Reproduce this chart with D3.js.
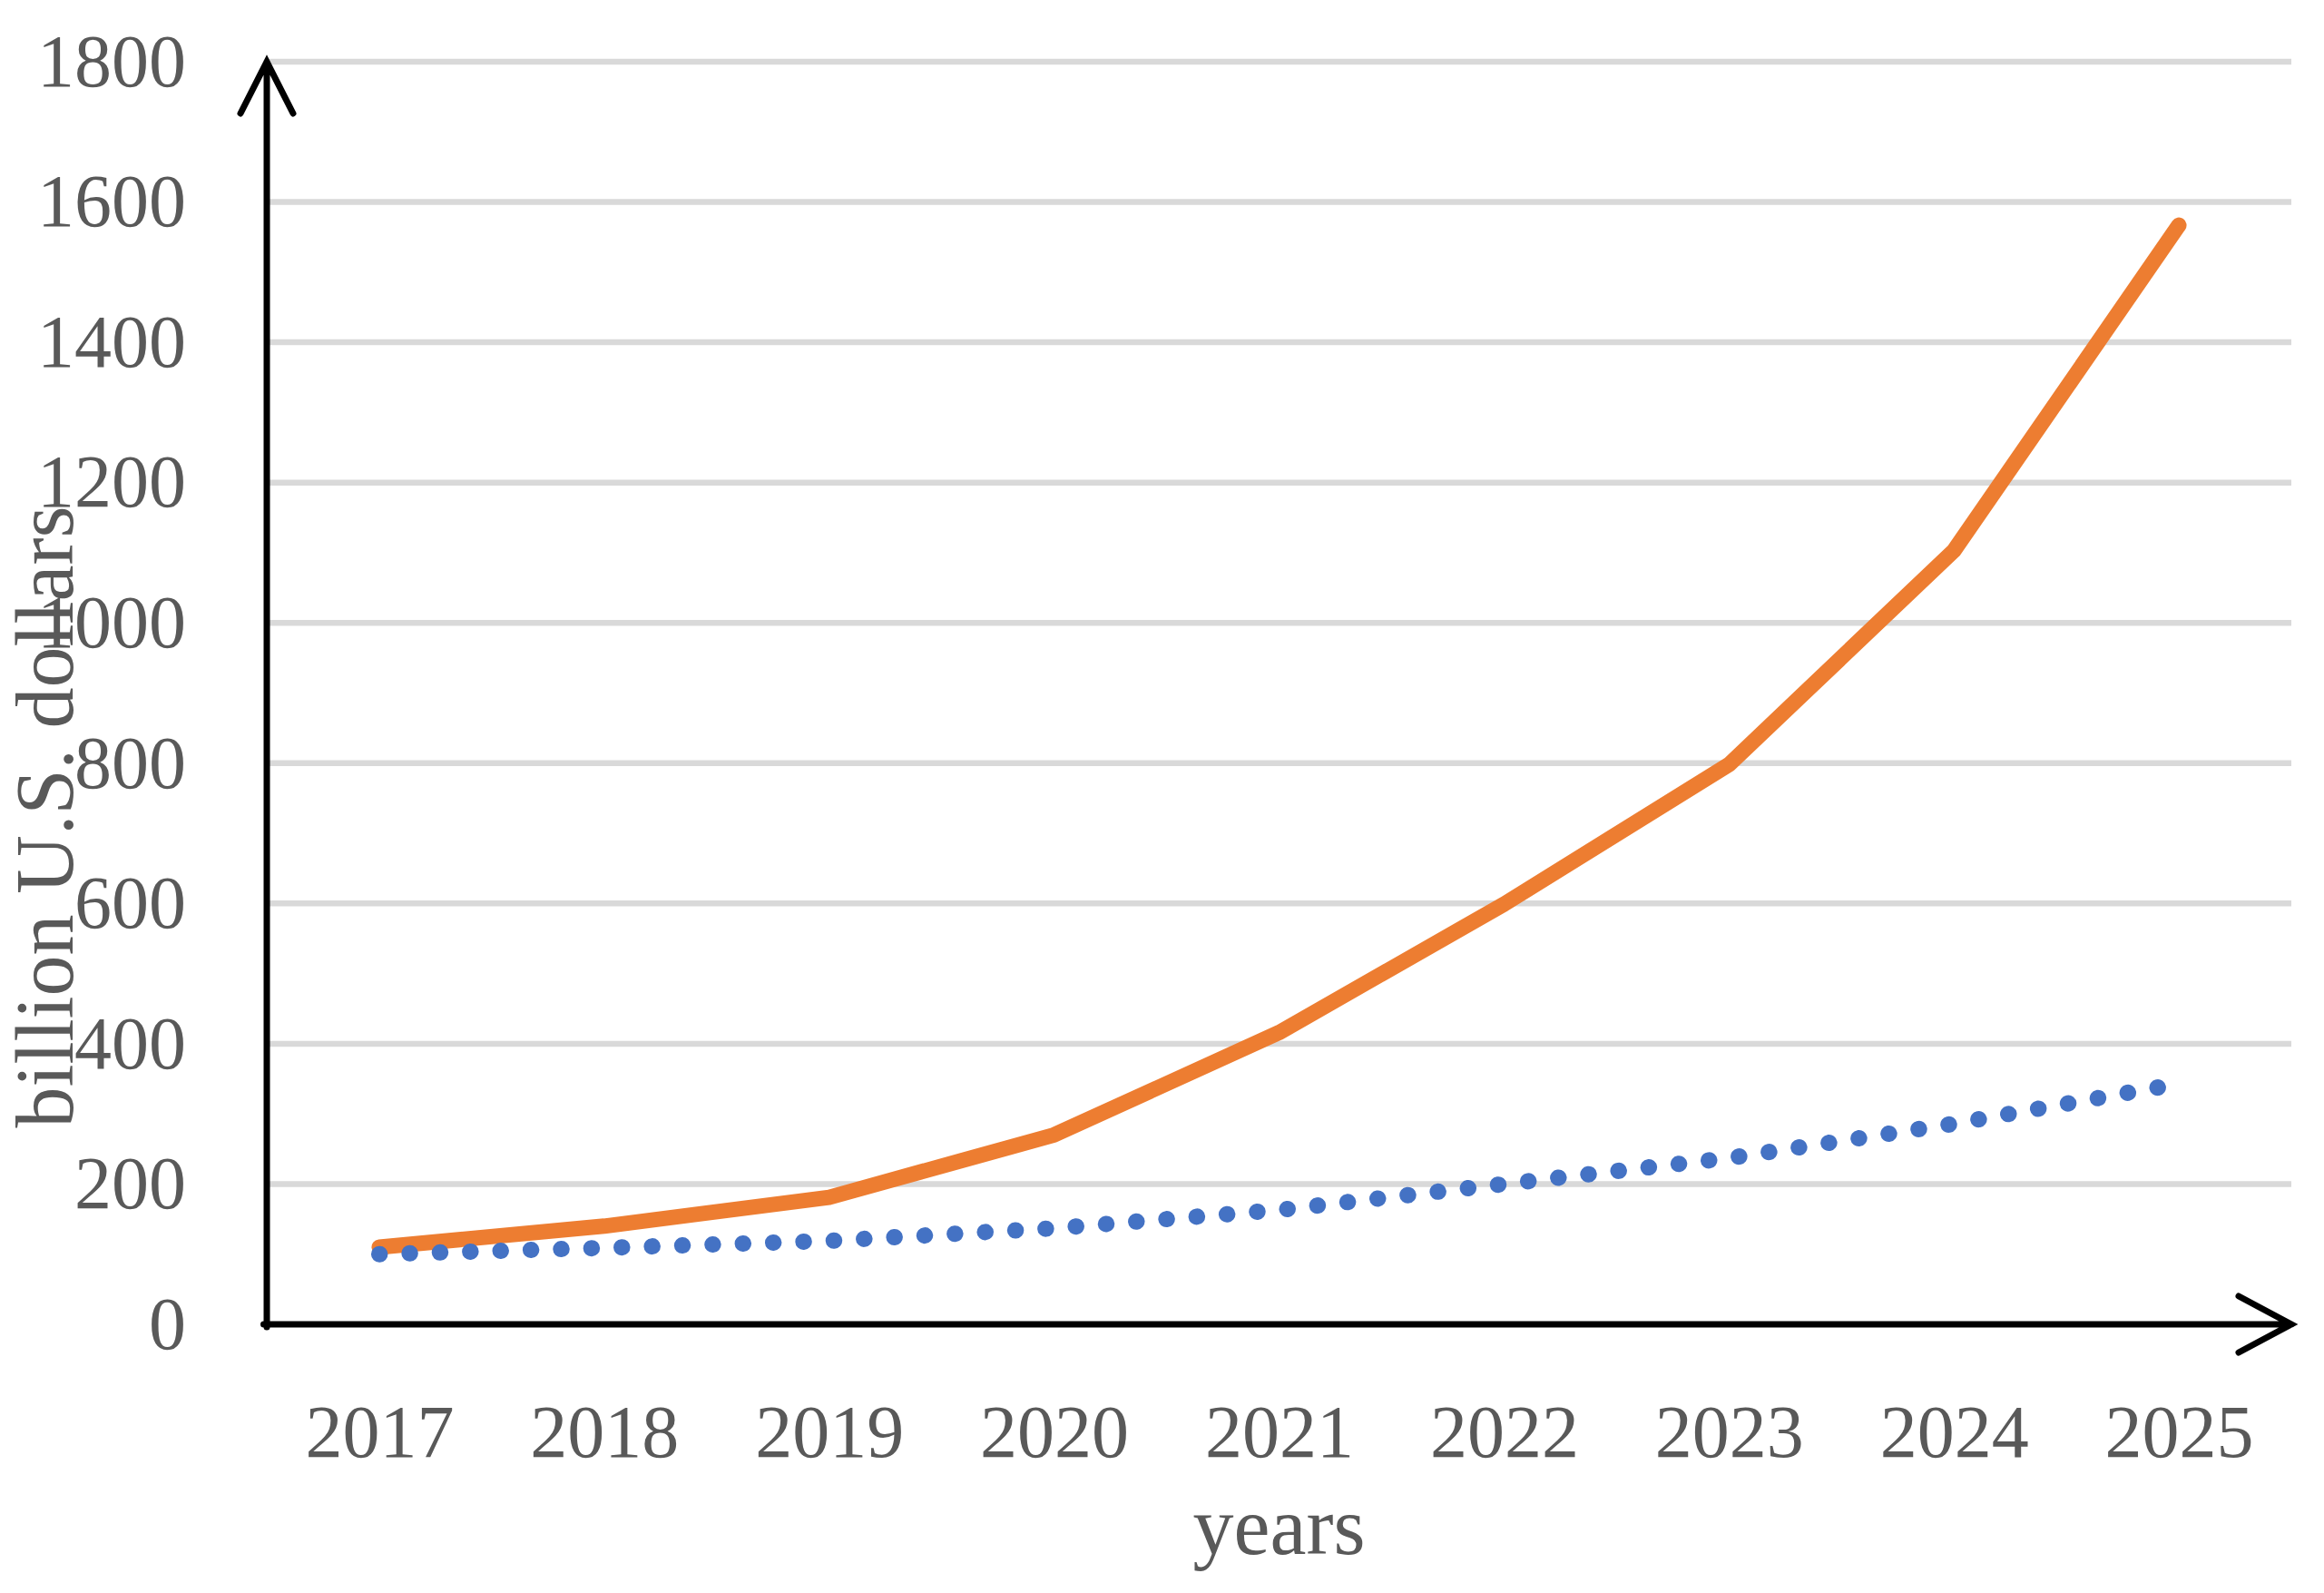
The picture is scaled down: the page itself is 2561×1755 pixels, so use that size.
<!DOCTYPE html>
<html>
<head>
<meta charset="utf-8">
<script src="https://cdn.jsdelivr.net/npm/d3@7"></script>
<style>
  body { margin: 0; background: #fff; }
  text { font-family: "Palatino Linotype", "Book Antiqua", Palatino, "Liberation Serif", serif; fill: #595959; }
</style>
</head>
<body>
<script>
// data
const years = ['2017', '2018', '2019', '2020', '2021', '2022', '2023', '2024', '2025']
const orangeSeries = [110, 140, 181, 270, 416, 599, 798, 1103, 1567]
const blueSeries = [100, 109, 119, 137, 163, 200, 237, 286, 343]
const yTicks = [0, 200, 400, 600, 800, 1000, 1200, 1400, 1600, 1800]

// measurements for the chart
const m = {
    width: 2561,
    height: 1755,
    left: 294,
    right: 2525,
    top: 68,
    bottom: 1459
}

const svg = d3.select('body').append('svg')
    .attr('width', m.width)
    .attr('height', m.height)

// scales
const xScale = d3.scalePoint()
    .domain(years)
    .range([m.left, m.right])
    .padding(0.5)

const yScale = d3.scaleLinear()
    .domain([0, 1800])
    .range([m.bottom, m.top])

// gridlines
svg.append('g')
    .selectAll('line')
    .data(yTicks.filter(d => d > 0))
    .join('line')
    .attr('x1', m.left)
    .attr('x2', m.right)
    .attr('y1', d => yScale(d))
    .attr('y2', d => yScale(d))
    .attr('stroke', '#d9d9d9')
    .attr('stroke-width', 6.5)

// the two lines
const line = d3.line()
    .x((d, i) => xScale(years[i]))
    .y(d => yScale(d))

svg.append('path')
    .datum(orangeSeries)
    .attr('d', line)
    .attr('fill', 'none')
    .attr('stroke', '#ed7d31')
    .attr('stroke-width', 17)
    .attr('stroke-linecap', 'round')
    .attr('stroke-linejoin', 'round')

svg.append('path')
    .datum(blueSeries)
    .attr('d', line)
    .attr('fill', 'none')
    .attr('stroke', '#4472c4')
    .attr('stroke-width', 18)
    .attr('stroke-linecap', 'round')
    .attr('stroke-dasharray', '0.5 32.9')

// tick labels through d3 axes, no domain or tick marks
const yAxis = d3.axisLeft(yScale)
    .tickValues(yTicks)
    .tickFormat(d3.format('d'))
    .tickSize(0)
    .tickPadding(89)
svg.append('g')
    .attr('transform', `translate(${m.left},0)`)
    .call(yAxis)
    .call(g => g.select('.domain').remove())
    .selectAll('text')
    .attr('font-size', 82)
    .attr('fill', '#595959')

const xAxis = d3.axisBottom(xScale).tickSize(0).tickPadding(88)
svg.append('g')
    .attr('transform', `translate(0,${m.bottom})`)
    .call(xAxis)
    .call(g => g.select('.domain').remove())
    .selectAll('text')
    .attr('font-size', 82)
    .attr('fill', '#595959')

// axis lines with open arrow heads
const x0 = xScale.range()[0], x1 = xScale.range()[1]
const y0 = yScale(0), y1 = yScale(1800)

svg.append('path')
    .attr('d', `M${x0},${y0 + 3}V${y1} M${x0 - 29},${y1 + 57}L${x0},${y1}L${x0 + 29},${y1 + 57}`)
    .attr('fill', 'none')
    .attr('stroke', '#000')
    .attr('stroke-width', 7)
    .attr('stroke-linecap', 'round')
    .attr('stroke-linejoin', 'miter')

svg.append('path')
    .attr('d', `M${x0 - 3.5},${y0}H${x1} M${x1 - 58},${y0 - 31}L${x1},${y0}L${x1 - 58},${y0 + 31}`)
    .attr('fill', 'none')
    .attr('stroke', '#000')
    .attr('stroke-width', 7)
    .attr('stroke-linecap', 'round')
    .attr('stroke-linejoin', 'miter')

// axis titles
svg.append('text')
    .attr('x', (x0 + x1) / 2)
    .attr('y', 1712)
    .attr('text-anchor', 'middle')
    .attr('font-size', 90)
    .text('years')

svg.append('text')
    .attr('transform', `translate(80, 900)rotate(-90)`)
    .attr('text-anchor', 'middle')
    .attr('font-size', 90)
    .text('billion U.S. dollars')
</script>
</body>
</html>
